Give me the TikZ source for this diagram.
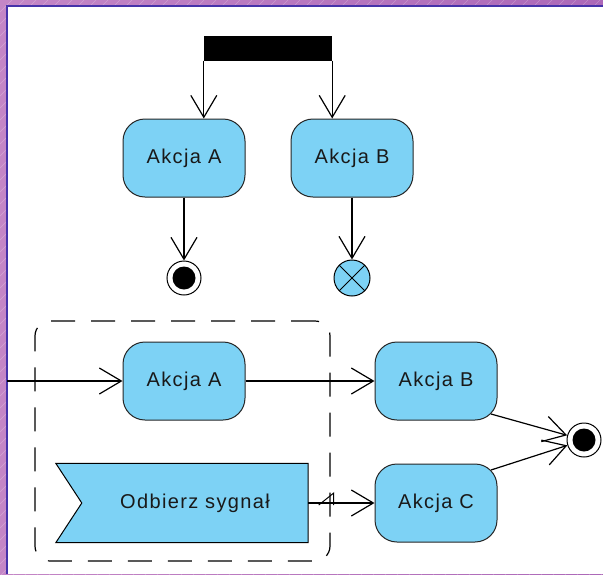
\documentclass[tikz,border=0pt]{standalone}
\usepackage{fontspec}
\setmainfont{Liberation Sans}[LetterSpace=7]
\usetikzlibrary{arrows.meta,backgrounds,calc}
\definecolor{niebieski}{RGB}{125,210,245}
\definecolor{ramka}{RGB}{70,50,170}
\definecolor{fiolet}{RGB}{196,134,198}
\definecolor{fiolet2}{RGB}{172,104,184}

\begin{document}
\begin{tikzpicture}[x=1pt, y=-1pt,
  akcja/.style={draw=black!85, line width=1pt, rounded corners=22pt, fill=niebieski, minimum width=122pt, minimum height=78pt, font=\fontsize{20pt}{24pt}\selectfont, text=black!90},
  sygnal/.style={inner xsep=0pt, text width=226pt, align=center, minimum height=79pt, font=\fontsize{20pt}{24pt}\selectfont, text=black!90},
  koniec/.style={circle, draw, line width=1pt, fill=white, minimum size=34pt, inner sep=0pt,
    path picture={\fill[black] (path picture bounding box.center) circle (11.5pt);}},
  przeplyw/.style={circle, draw, line width=1pt, fill=niebieski, minimum size=36pt, inner sep=0pt,
    path picture={\draw[line width=1pt] (path picture bounding box.north west) -- (path picture bounding box.south east)
      (path picture bounding box.north east) -- (path picture bounding box.south west);}},
  obszar/.style={draw, line width=1.2pt, dash pattern=on 24pt off 16pt, rounded corners=15pt, minimum width=295pt, minimum height=240pt},
  flow/.style={-{Straight Barb[length=22pt,width=26pt]}, line width=1.2pt}
]
  % tlo z ramka
  \useasboundingbox (0,0) rectangle (603,574);
  \begin{scope}[on background layer]
    \fill[left color=fiolet, right color=fiolet2] (0,0) rectangle (603,574);
    \foreach \i in {0,12,...,1200}
      \draw[white, opacity=.25, line width=.4pt] (\i,0) -- ++(-600,600);
    \fill[white] (7,6) rectangle (603,574);
    \draw[ramka, line width=1.5pt] (7,574) -- (7,6) -- (603,6);
  \end{scope}

  % rozwidlenie i zakonczenia
  \node[fill=black, minimum width=128pt, minimum height=25pt, inner sep=0pt] (fork) at (268,48) {};
  \node[akcja] (a1) at (184,158) {Akcja A};
  \node[akcja] (b1) at (352,158) {Akcja B};
  \node[koniec] (k1) at (184,278) {};
  \node[przeplyw] (p1) at (352,278) {};
  \draw[flow] (fork.south west) -- (fork.south west |- a1.north);
  \draw[flow] (fork.south east) -- (fork.south east |- b1.north);
  \draw[flow] (a1) -- (k1);
  \draw[flow] (b1) -- (p1);

  % obszar przerywalny
  \node[obszar] (obszar) at (182.5,441) {};
  \coordinate (wej) at (7,381);
  \node[akcja] (a2) at (184,381) {Akcja A};
  \node[akcja] (b2) at (436,381) {Akcja B};
  \node[akcja] (c2) at (436,503) {Akcja C};
  \node[sygnal] (syg) at (195,503) {Odbierz sygnał};
  \begin{scope}[on background layer]
    \draw[line width=1pt, fill=niebieski] ([xshift=-26pt]syg.north west) -- (syg.north east) -- (syg.south east)
      -- ([xshift=-26pt]syg.south west) -- (syg.west) -- cycle;
  \end{scope}
  \node[koniec] (k2) at (584,440) {};

  \draw[flow] (wej) -- (a2);
  \draw[flow] (a2) -- (b2);
  \draw[flow] (syg) -- (c2) coordinate[pos=.37] (przerw);
  \draw[line width=1pt] (przerw) ++(-14,2) -- ++(15,-12) -- ++(0,12);
  \draw[flow] ($(b2.south east)+(-6.5pt,6.5pt)$) -- (k2);
  \draw[flow] ($(c2.north east)+(-6.5pt,-6.5pt)$) -- (k2);
\end{tikzpicture}
\end{document}
